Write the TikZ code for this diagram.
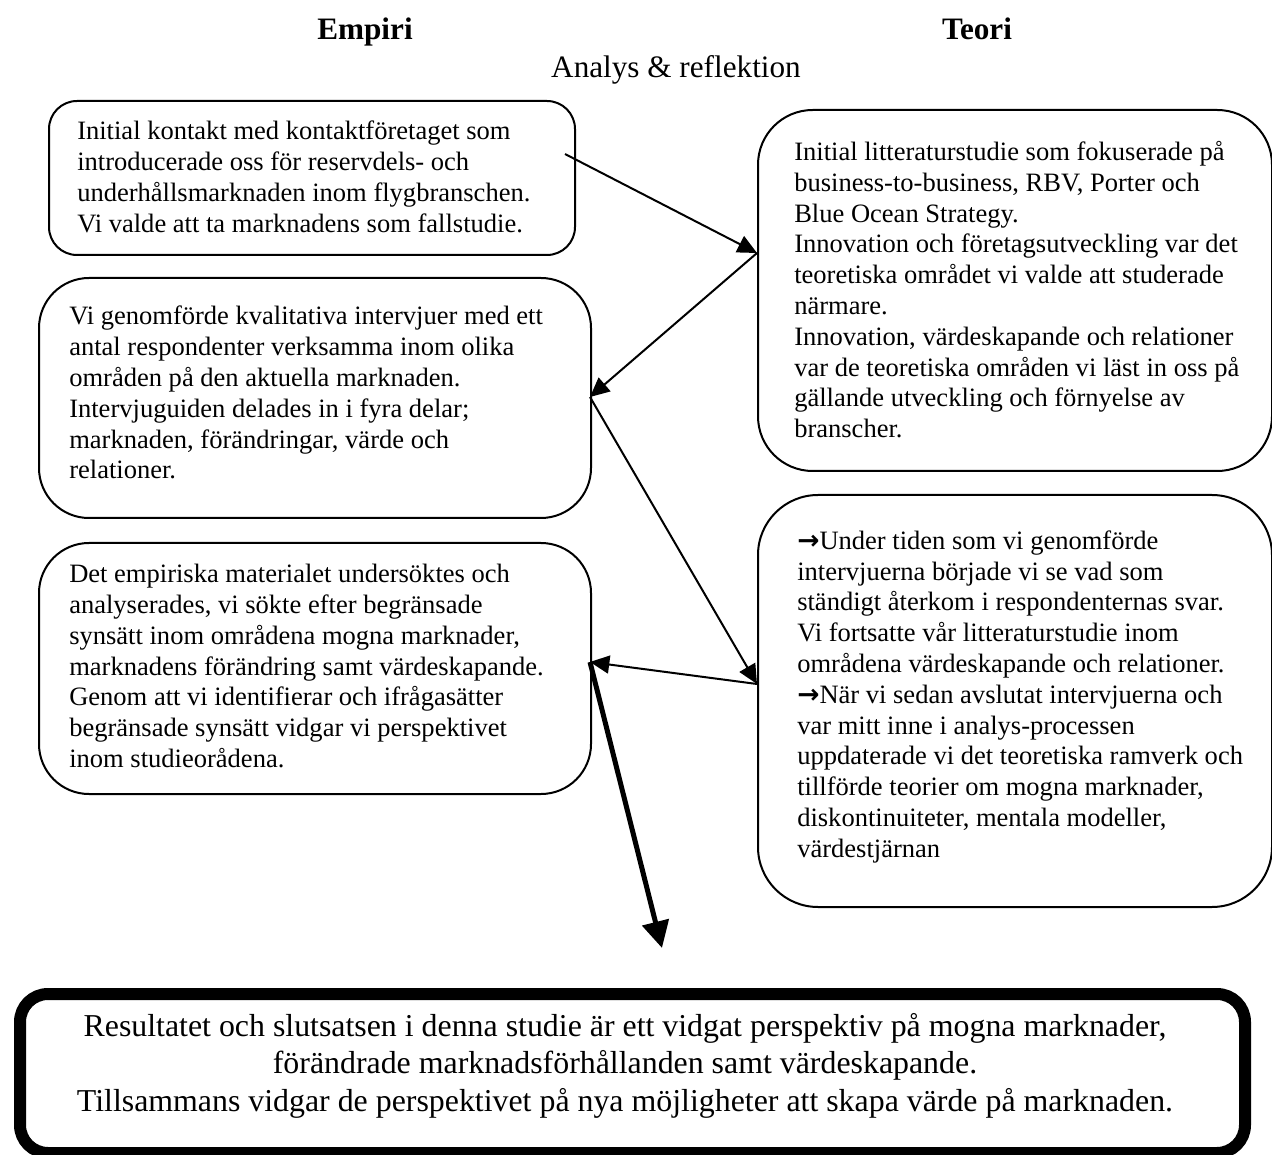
\documentclass[tikz,border=0pt]{standalone}
\usepackage{fontspec}
\setmainfont{Liberation Serif}
\newfontfamily\arrowfont{DejaVu Sans}
\usetikzlibrary{arrows.meta}

\newcommand{\bularrow}{{\arrowfont\bfseries →}}

\tikzset{
  box/.style={draw, line width=1.5pt, anchor=north west, inner sep=0pt},
  body/.style={anchor=north west, inner sep=0pt, align=left,
    font=\fontsize{19.9pt}{23.1pt}\selectfont, execute at begin node=\strut},
  head/.style={anchor=base, inner sep=0pt, font=\fontsize{23.4pt}{28pt}\selectfont\bfseries},
  sub/.style={anchor=base, inner sep=0pt, font=\fontsize{23.4pt}{28pt}\selectfont},
  result/.style={anchor=north, inner sep=0pt, align=center,
    font=\fontsize{23.9pt}{28.1pt}\selectfont, execute at begin node=\strut},
  link/.style={line width=1.5pt, -{Triangle[length=14.5pt,width=13.5pt]}},
  mainlink/.style={line width=3.75pt, -{Triangle[length=20pt,width=20pt]}}
}

\begin{document}
\begin{tikzpicture}[x=0.75pt,y=-0.75pt]
\useasboundingbox (0,0) rectangle (1272,1155);

% column headings
\node[head] (hemp) at (365,40) {Empiri};
\node[head] (hteo) at (977,40) {Teori};
\node[sub]  (hana) at (676,78) {Analys \& reflektion};

% empirical side
\node[box, minimum width=394.5pt, minimum height=115.5pt, rounded corners=21pt] (b1) at (48,100) {};
\node[body] (t1) at (77,121) {Initial kontakt med kontaktföretaget som\\
introducerade oss för reservdels- och\\
underhållsmarknaden inom flygbranschen.\\
Vi valde att ta marknadens som fallstudie.};

\node[box, minimum width=414pt, minimum height=180pt, rounded corners=37.5pt] (b2) at (38,277) {};
\node[body] (t2) at (69,306) {Vi genomförde kvalitativa intervjuer med ett\\
antal respondenter verksamma inom olika\\
områden på den aktuella marknaden.\\
Intervjuguiden delades in i fyra delar;\\
marknaden, förändringar, värde och\\
relationer.};

\node[box, minimum width=414pt, minimum height=188.25pt, rounded corners=37.5pt] (b3) at (38,542) {};
\node[body] (t3) at (69,564) {Det empiriska materialet undersöktes och\\
analyserades, vi sökte efter begränsade\\
synsätt inom områdena mogna marknader,\\
marknadens förändring samt värdeskapande.\\
Genom att vi identifierar och ifrågasätter\\
begränsade synsätt vidgar vi perspektivet\\
inom studieorådena.};

% theoretical side
\node[box, minimum width=385.5pt, minimum height=270.75pt, rounded corners=41pt] (b4) at (757,109) {};
\node[body] (t4) at (794,141) {Initial litteraturstudie som fokuserade på\\
business-to-business, RBV, Porter och\\
Blue Ocean Strategy.\\
Innovation och företagsutveckling var det\\
teoretiska området vi valde att studerade\\
närmare.\\
Innovation, värdeskapande och relationer\\
var de teoretiska områden vi läst in oss på\\
gällande utveckling och förnyelse av\\
branscher.};

\node[box, minimum width=385.5pt, minimum height=309pt, rounded corners=45pt] (b5) at (757,494) {};
\node[body] (t5) at (797,530.3) {\bularrow Under tiden som vi genomförde\\
intervjuerna började vi se vad som\\
ständigt återkom i respondenternas svar.\\
Vi fortsatte vår litteraturstudie inom\\
områdena värdeskapande och relationer.\\
\bularrow När vi sedan avslutat intervjuerna och\\
var mitt inne i analys-processen\\
uppdaterade vi det teoretiska ramverk och\\
tillförde teorier om mogna marknader,\\
diskontinuiteter, mentala modeller,\\
värdestjärnan};

% conclusion
\node[draw, line width=9pt, anchor=north west, inner sep=0pt,
      minimum width=918.75pt, minimum height=119.25pt, rounded corners=21pt] (res) at (14,988) {};
\node[result] (tres) at (625,1013) {Resultatet och slutsatsen i denna studie är ett vidgat perspektiv på mogna marknader,\\
förändrade marknadsförhållanden samt värdeskapande.\\
Tillsammans vidgar de perspektivet på nya möjligheter att skapa värde på marknaden.};

% attachment points on the box edges
\coordinate (p1) at (565,154);   % inside b1, right side
\coordinate (p4) at (757,253);   % left edge of b4
\coordinate (p2) at (590,397);   % right edge of b2
\coordinate (p5) at (757,684);   % left edge of b5
\coordinate (p3) at (590,662);   % right edge of b3
\coordinate (pr) at (662,948);   % above the conclusion box

\draw[link] (p1) -- (p4);
\draw[link] (p4) -- (p2);
\draw[link] (p2) -- (p5);
\draw[link] (p5) -- (p3);
\draw[mainlink] (p3) -- (pr);
\end{tikzpicture}
\end{document}
